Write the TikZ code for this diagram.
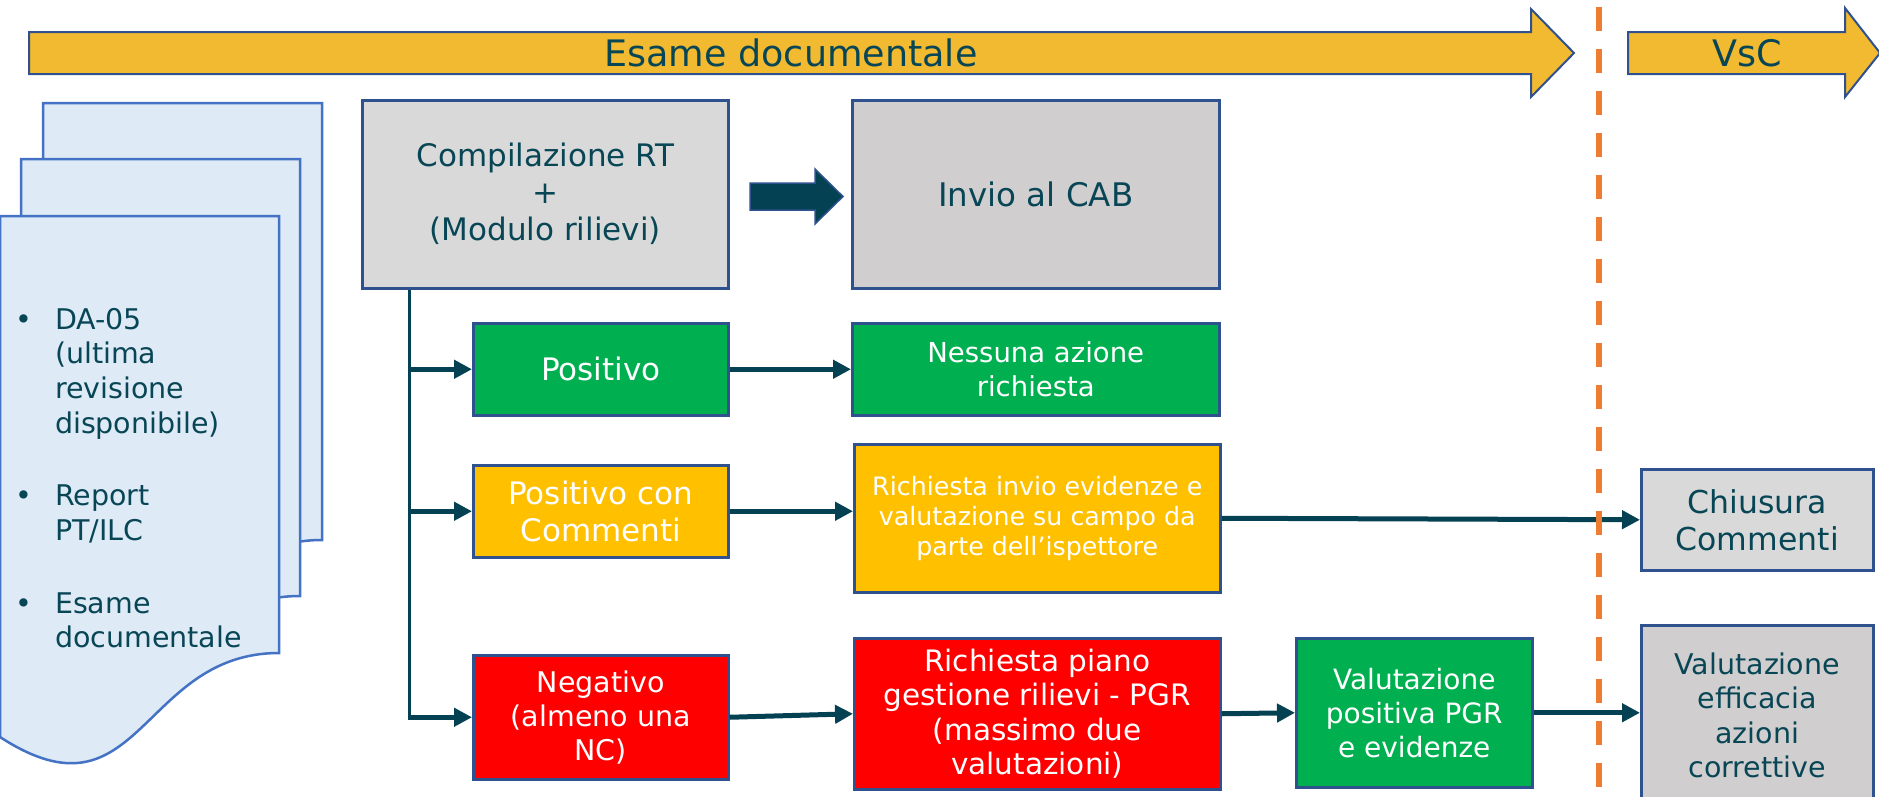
\documentclass[tikz,border=0pt]{standalone}
\usepackage{fontspec}
\setmainfont{DejaVu Sans}
\usetikzlibrary{arrows.meta}
\usetikzlibrary{positioning}

\definecolor{boxline}{RGB}{47,82,143}
\definecolor{inktext}{RGB}{8,70,86}
\definecolor{flowline}{RGB}{4,65,82}
\definecolor{phasefill}{RGB}{242,186,48}
\definecolor{docfill}{RGB}{222,234,246}
\definecolor{docline}{RGB}{68,114,196}
\definecolor{paleboxgray}{RGB}{217,217,217}
\definecolor{warmboxgray}{RGB}{208,206,206}
\definecolor{okgreen}{RGB}{0,176,80}
\definecolor{warnamber}{RGB}{255,192,0}
\definecolor{failred}{RGB}{255,0,0}
\definecolor{splitorange}{RGB}{237,125,49}

\tikzset {
  % phase banners along the top
  phase/.style = {
    draw = boxline,
    fill = phasefill,
    line width = 2pt
  },
  phasetext/.style = {
    text = inktext,
    inner sep = 0,
    font = \fontsize{36.5}{40}\selectfont
  },
  % stacked input documents
  docpage/.style = {
    draw = docline,
    fill = docfill,
    line width = 2.5pt
  },
  doctext/.style = {
    anchor = base west,
    inner sep = 0,
    text = inktext,
    font = \fontsize{28.5}{34.7}\selectfont
  },
  % process boxes
  stage/.style = {
    draw = boxline,
    line width = 2.5pt,
    rectangle,
    inner sep = 0,
    align = center,
    anchor = north west,
    font = \fontsize{31}{37}\selectfont
  },
  graystage/.style = {
    stage,
    fill = paleboxgray,
    text = inktext
  },
  darkgraystage/.style = {
    stage,
    fill = warmboxgray,
    text = inktext
  },
  okstage/.style = {
    stage,
    fill = okgreen,
    text = white
  },
  warnstage/.style = {
    stage,
    fill = warnamber,
    text = white
  },
  failstage/.style = {
    stage,
    fill = failred,
    text = white
  }
}
\tikzset {
  % connectors
  flow/.style = {
    draw = flowline,
    line width = 5pt,
    -{Triangle[length = 18pt, width = 18pt]}
  },
  trunk/.style = {
    draw = flowline,
    line width = 3pt
  },
  sendarrow/.style = {
    fill = flowline,
    draw = boxline,
    line width = 1.5pt
  },
  divider/.style = {
    draw = splitorange,
    line width = 6pt,
    dash pattern = on 24pt off 18pt
  }
}

\begin{document}
\begin{tikzpicture}[x = 1pt, y = -1pt]
  \useasboundingbox (0,0) rectangle (1879,796);

  % phases
  \draw[phase] (29,32) -- (1531,32) -- (1531,9) -- (1574,53) -- (1531,97)
    -- (1531,74) -- (29,74) -- cycle;
  \node[phasetext] (phase-doc) at (791,53) {Esame documentale};
  \draw[phase] (1628,32) -- (1845,32) -- (1845,8) -- (1880,53) -- (1845,97)
    -- (1845,74) -- (1628,74) -- cycle;
  \node[phasetext] (phase-vsc) at (1747,53) {VsC};

  % documents
  \foreach \px/\py in {43/103, 21/159, 0/216}
    \draw[docpage, shift = {(\px,\py)}] (0,0) -- (279,0) -- (279,437)
      .. controls (140,437) and (140,612) .. (0,521) -- cycle;
  \node[doctext] (doc-list) at (15,329) {%
    \begin{tabular}[t]{@{}l@{\hspace{23pt}}l@{}}
      \textbullet & DA-05\\
                  & (ultima\\
                  & revisione\\
                  & disponibile)\\[38pt]
      \textbullet & Report\\
                  & PT/ILC\\[38pt]
      \textbullet & Esame\\
                  & documentale
    \end{tabular}};

  % first row
  \node[graystage, minimum width = 366pt, minimum height = 188pt] (comp-rt)
    at (361,99) {Compilazione RT\\+\\(Modulo rilievi)};
  \node[darkgraystage, minimum width = 367pt, minimum height = 188pt,
    font = \fontsize{32.5}{37}\selectfont]
    (invio-cab) [right = 121.5pt of comp-rt] {Invio al CAB};
  \draw[sendarrow] (750,183) -- (815,183) -- (815,169) -- (843,196.5)
    -- (815,224) -- (815,210) -- (750,210) -- cycle;

  % outcomes
  \node[okstage, minimum width = 255pt, minimum height = 92pt] (esito-pos)
    at (472,322) {Positivo};
  \node[okstage, minimum width = 367pt, minimum height = 92pt,
    font = \fontsize{27.5}{34}\selectfont]
    (nessuna-azione) [right = 121.5pt of esito-pos]
    {Nessuna azione\\richiesta};

  \node[warnstage, minimum width = 255pt, minimum height = 92pt] (esito-comm)
    at (472,464) {Positivo con\\Commenti};
  \node[warnstage, minimum width = 366pt, minimum height = 148pt,
    font = \fontsize{25.3}{30}\selectfont] (richiesta-evid)
    at (853,443) {Richiesta invio evidenze e\\valutazione su campo da\\parte dell'ispettore};

  \node[failstage, minimum width = 255pt, minimum height = 124pt,
    font = \fontsize{28.5}{34}\selectfont] (esito-neg)
    at (472,654) {Negativo\\(almeno una\\NC)};
  \node[failstage, minimum width = 366pt, minimum height = 151pt,
    font = \fontsize{29.5}{34.5}\selectfont] (richiesta-pgr)
    at (853,637) {Richiesta piano\\gestione rilievi - PGR\\(massimo due\\valutazioni)};
  \node[okstage, minimum width = 236pt, minimum height = 149pt,
    font = \fontsize{28}{34}\selectfont] (val-pgr)
    at (1295,637) {Valutazione\\positiva PGR\\e evidenze};

  % VsC column
  \node[graystage, minimum width = 232pt, minimum height = 101pt,
    font = \fontsize{31.5}{37}\selectfont] (chiusura-comm)
    at (1640,468) {Chiusura\\Commenti};
  \node[darkgraystage, minimum width = 232pt, minimum height = 180pt,
    font = \fontsize{28.5}{34.5}\selectfont] (val-eff)
    at (1640,624) {Valutazione\\efficacia\\azioni\\correttive};

  % connectors
  \coordinate (trunk-top) at ([xshift = 48pt]comp-rt.south west);
  \coordinate (trunk-bot) at (trunk-top |- esito-neg.west);
  \draw[trunk] (trunk-top) -- (trunk-bot);

  \draw[flow] (trunk-top |- esito-pos.west) -- (esito-pos.west);
  \draw[flow] (trunk-top |- esito-comm.west) -- (esito-comm.west);
  \draw[flow] ([xshift = -1.5pt]trunk-bot) -- (esito-neg.west);

  \draw[flow] (esito-pos) -- (nessuna-azione);
  \draw[flow] (esito-comm.east) -- (esito-comm.east -| richiesta-evid.west);
  \draw[flow] (richiesta-evid.east) -- (chiusura-comm.west);
  \draw[flow] (esito-neg.east) -- (richiesta-pgr.west);
  \draw[flow] (richiesta-pgr.east) -- (val-pgr.west);
  \draw[flow] (val-pgr.east) -- (val-pgr.east -| val-eff.west);

  % phase border
  \draw[divider] (1599,7) -- (1599,800);
\end{tikzpicture}
\end{document}
